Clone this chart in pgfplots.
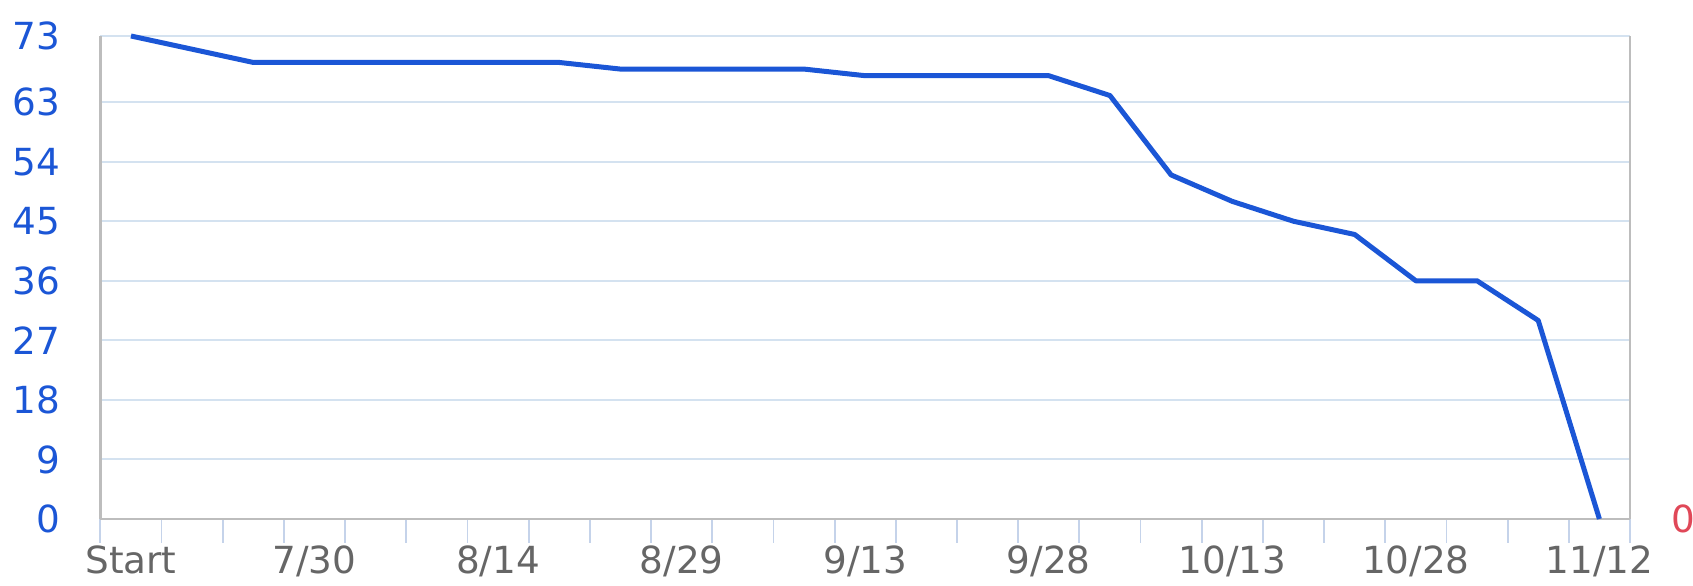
\documentclass[border=0pt]{standalone}
\usepackage{fontspec}
\setmainfont{DejaVu Sans}
\usepackage{pgfplots}
\pgfplotsset{compat=1.18}
\definecolor{lineblue}{RGB}{27,86,214}
\definecolor{labelblue}{RGB}{27,86,214}
\definecolor{gridc}{RGB}{212,226,240}
\definecolor{axisgray}{RGB}{189,189,189}
\definecolor{tickc}{RGB}{197,211,234}
\definecolor{labgray}{RGB}{102,102,102}
\definecolor{zerored}{RGB}{224,72,88}
\begin{document}
\begin{tikzpicture}
\path[use as bounding box] (-30.12pt,-20.1pt) rectangle (477.8pt,155.7pt);
\begin{axis}[
  at={(0,0)}, anchor=south west,
  scale only axis, width=458.9pt, height=144.9pt,
  xmin=0, xmax=25, ymin=0, ymax=73,
  axis x line*=bottom, axis y line*=left,
  x axis line style={-, draw=axisgray, line width=0.7pt},
  y axis line style={-, draw=axisgray, line width=0.7pt},
  clip=false,
  xtick={0,...,25}, xticklabels={},
  tick align=outside,
  major tick length=7.2pt,
  x tick style={draw=tickc, line width=0.55pt},
  ytick={0,9,18,27,36,45,54,63,73},
  y tick style={draw=none},
  ymajorgrids, major grid style={draw=gridc, line width=0.6pt},
  yticklabel style={text=labelblue, font=\fontsize{11.2}{13}\selectfont, anchor=east, xshift=-1.4pt},
  /pgf/number format/assume math mode=true,
  extra x ticks={0.5,3.5,6.5,9.5,12.5,15.5,18.5,21.5,24.5},
  extra x tick labels={Start,7/30,8/14,8/29,9/13,9/28,10/13,10/28,11/12},
  extra x tick style={major tick length=0pt, grid=none, tick style={draw=none},
    xticklabel style={anchor=base, yshift=-16.5pt, text=labgray, font=\fontsize{11.2}{13}\selectfont}},
]
\addplot[lineblue, line width=1.5pt, line join=round] coordinates {
  (0.5,73) (2.5,69) (7.5,69) (8.5,68) (11.5,68) (12.5,67) (15.5,67)
  (16.5,64) (17.5,52) (18.5,48) (19.5,45) (20.5,43) (21.5,36) (22.5,36)
  (23.5,30) (24.5,0)
};
\end{axis}
\begin{axis}[
  at={(0,0)}, anchor=south west,
  scale only axis, width=458.9pt, height=144.9pt,
  xmin=0, xmax=25, ymin=0, ymax=73,
  axis y line*=right, axis x line=none,
  y axis line style={-, draw=axisgray, line width=0.7pt},
  ytick={0}, y tick style={draw=none}, major tick length=0pt,
  yticklabel style={text=zerored, font=\fontsize{11.2}{13}\selectfont, anchor=west, xshift=8.8pt},
  /pgf/number format/assume math mode=true,
]
\addplot[draw=none] coordinates {(0,0)};
\end{axis}
\end{tikzpicture}
\end{document}
